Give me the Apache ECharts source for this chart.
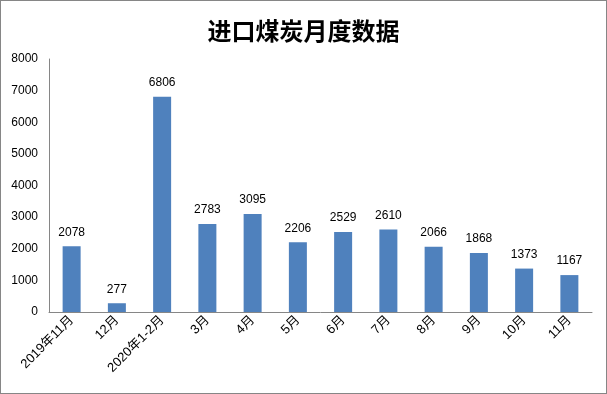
<!DOCTYPE html>
<html><head><meta charset="utf-8">
<script src="https://cdn.jsdelivr.net/npm/echarts@6/dist/echarts.min.js"></script>
<style>
html,body{margin:0;padding:0;background:#fff;}
#c{position:absolute;left:0;top:0;width:605px;height:392px;border:1px solid #868686;}
</style></head>
<body><div id="c"></div>
<script>
const title = '进口煤炭月度数据';
const categories = ['2019年11月','12月','2020年1-2月','3月','4月','5月','6月','7月','8月','9月','10月','11月'];
const values = [2078, 277, 6806, 2783, 3095, 2206, 2529, 2610, 2066, 1868, 1373, 1167];
const yTicks = {min: 0, max: 8000, interval: 1000};

const chart = echarts.init(document.getElementById('c'));
chart.setOption({
  animation: false,
  title: {text: title, left: 'center', top: 13,
    textStyle: {fontFamily: '"Noto Sans CJK SC"', fontWeight: 'bold', fontSize: 24, color: '#000'}},
  grid: {left: 48, right: 14, top: 58, bottom: 81},
  xAxis: {type: 'category', data: categories,
    axisLine: {lineStyle: {color: '#868686'}}, axisTick: {show: false},
    axisLabel: {rotate: 45, interval: 0, fontSize: 13, color: '#000', margin: 6,
      fontFamily: '"Liberation Sans", "Noto Sans CJK SC"'}},
  yAxis: {type: 'value', min: yTicks.min, max: yTicks.max, interval: yTicks.interval,
    axisLine: {show: true, lineStyle: {color: '#868686'}}, axisTick: {show: false},
    splitLine: {show: false},
    axisLabel: {fontSize: 12, color: '#000', margin: 11, fontFamily: '"Liberation Sans"',
      formatter: v => String(v)}},
  series: [{type: 'bar', data: values, barWidth: 18,
    itemStyle: {color: '#4F81BD'},
    label: {show: true, position: 'top', distance: 8, fontSize: 12, color: '#000', fontFamily: '"Liberation Sans"'}}]
});
</script></body></html>
